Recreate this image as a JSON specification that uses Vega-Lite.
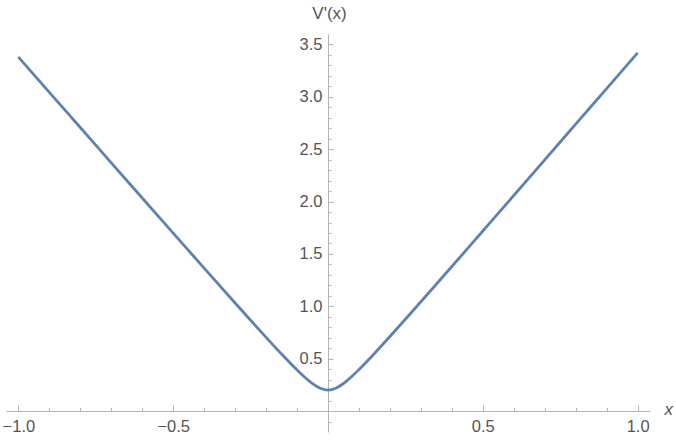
{
  "$schema": "https://vega.github.io/schema/vega-lite/v6.json",
  "width": 644,
  "height": 398,
  "autosize": {"type": "none"},
  "padding": {"left": 6, "top": 34, "right": 26, "bottom": 10},
  "background": "white",
  "config": {
    "view": {"stroke": null},
    "axis": {
      "grid": false,
      "domainColor": "#b3b3b3",
      "tickColor": "#b3b3b3",
      "labelColor": "#555555",
      "labelFont": "Liberation Sans",
      "labelFontSize": 16.5,
      "titleFont": "Liberation Sans",
      "titleFontSize": 17,
      "titleFontWeight": "normal",
      "titleColor": "#555555",
      "labelOverlap": false,
      "labelFlush": false
    }
  },
  "data": {
    "values": [
      {"x": -1.0, "v": 3.38},
      {"x": -0.9, "v": 3.043},
      {"x": -0.8, "v": 2.707},
      {"x": -0.7, "v": 2.37},
      {"x": -0.6, "v": 2.034},
      {"x": -0.5, "v": 1.699},
      {"x": -0.4, "v": 1.364},
      {"x": -0.3, "v": 1.032},
      {"x": -0.25, "v": 0.867},
      {"x": -0.2, "v": 0.704},
      {"x": -0.15, "v": 0.544},
      {"x": -0.1, "v": 0.392},
      {"x": -0.075, "v": 0.322},
      {"x": -0.05, "v": 0.261},
      {"x": -0.025, "v": 0.217},
      {"x": 0.0, "v": 0.2},
      {"x": 0.025, "v": 0.218},
      {"x": 0.05, "v": 0.263},
      {"x": 0.075, "v": 0.325},
      {"x": 0.1, "v": 0.396},
      {"x": 0.15, "v": 0.55},
      {"x": 0.2, "v": 0.712},
      {"x": 0.25, "v": 0.877},
      {"x": 0.3, "v": 1.044},
      {"x": 0.4, "v": 1.38},
      {"x": 0.5, "v": 1.719},
      {"x": 0.6, "v": 2.058},
      {"x": 0.7, "v": 2.398},
      {"x": 0.8, "v": 2.739},
      {"x": 0.9, "v": 3.079},
      {"x": 1.0, "v": 3.42}
    ]
  },
  "layer": [
    {
      "mark": {"type": "line", "color": "#5e81b5", "strokeWidth": 2.8, "interpolate": "monotone"},
      "encoding": {
        "x": {
          "field": "x", "type": "quantitative",
          "scale": {"domain": [-1.04, 1.04], "nice": false, "zero": false},
          "axis": {
            "orient": "bottom", "offset": -21,
            "values": [-1, -0.5, 0.5, 1], "format": ".1f",
            "tickSize": -6, "labelPadding": 13,
            "title": "x", "titleFontStyle": "italic",
            "titleX": 658, "titleY": -2, "titleAlign": "left", "titleBaseline": "middle"
          }
        },
        "y": {
          "field": "v", "type": "quantitative",
          "scale": {"domain": [-0.2, 3.6], "nice": false, "zero": false},
          "axis": {
            "orient": "left", "offset": -322,
            "values": [0.5, 1, 1.5, 2, 2.5, 3, 3.5], "format": ".1f",
            "tickSize": -5, "labelPadding": 11,
            "title": "V'(x)", "titleAngle": 0,
            "titleX": 1, "titleY": -21, "titleAlign": "center", "titleBaseline": "middle"
          }
        }
      }
    },
    {
      "mark": {"type": "line", "opacity": 0},
      "encoding": {
        "x": {
          "field": "x", "type": "quantitative",
          "axis": {
            "orient": "bottom", "offset": -21, "domain": false, "labels": false, "title": null,
            "values": [-1.0, -0.9, -0.8, -0.7, -0.6, -0.4, -0.3, -0.2, -0.1, 0.1, 0.2, 0.3, 0.4, 0.6, 0.7, 0.8, 0.9, 1.0],
            "tickSize": -3.5
          }
        },
        "y": {
          "field": "v", "type": "quantitative",
          "axis": {
            "orient": "left", "offset": -322, "domain": false, "labels": false, "title": null,
            "values": [-0.1, 0.1, 0.2, 0.3, 0.4, 0.6, 0.7, 0.8, 0.9, 1.1, 1.2, 1.3, 1.4, 1.6, 1.7, 1.8, 1.9, 2.1, 2.2, 2.3, 2.4, 2.6, 2.7, 2.8, 2.9, 3.1, 3.2, 3.3, 3.4],
            "tickSize": -3
          }
        }
      }
    }
  ],
  "resolve": {"axis": {"x": "independent", "y": "independent"}}
}
